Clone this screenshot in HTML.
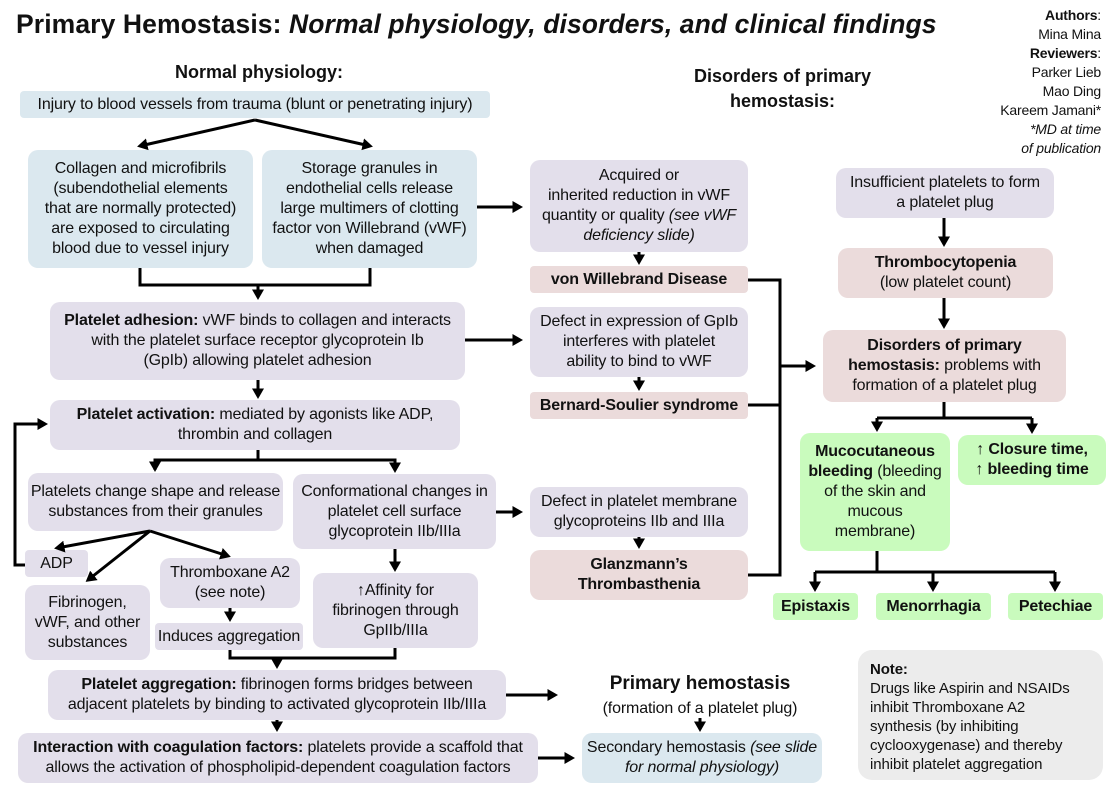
<!DOCTYPE html>
<html><head><meta charset="utf-8"><style>
body{margin:0;width:1117px;height:797px;background:#fff;font-family:"Liberation Sans",Calibri,sans-serif;position:relative;overflow:hidden;color:#111}
.b{position:absolute;display:flex;align-items:center;justify-content:center;text-align:center;font-size:16px;line-height:20px;letter-spacing:-0.15px;border-radius:10px;box-sizing:border-box;padding:0 1px;white-space:nowrap}
.bl{background:#dbe8ef}.pu{background:#e3dfeb}.pk{background:#ebdbdb}.gr{background:#c9fbbd}
.t{position:absolute}
svg{position:absolute;left:0;top:0}
</style></head><body>
<div class="t" style="left:16px;top:9px;font-size:26.5px;font-weight:bold;letter-spacing:0.1px">Primary Hemostasis: <i>Normal physiology, disorders, and clinical findings</i></div>
<div class="t" style="right:16px;top:6px;font-size:14px;line-height:19px;text-align:right;letter-spacing:-0.2px"><b>Authors</b>:<br>Mina Mina<br><b>Reviewers</b>:<br>Parker Lieb<br>Mao Ding<br>Kareem Jamani*<br><i>*MD at time<br>of publication</i></div>
<div class="t" style="left:175px;top:62px;font-size:18px;font-weight:bold">Normal physiology:</div>
<div class="t" style="left:670px;top:64px;width:225px;text-align:center;font-size:18px;line-height:25px;font-weight:bold">Disorders of primary<br>hemostasis:</div>

<div class="b bl" style="left:20px;top:91px;width:470px;height:27px;border-radius:4px">Injury to blood vessels from trauma (blunt or penetrating injury)</div>
<div class="b bl" style="left:28px;top:150px;width:225px;height:118px">Collagen and microfibrils<br>(subendothelial elements<br>that are normally protected)<br>are exposed to circulating<br>blood due to vessel injury</div>
<div class="b bl" style="left:262px;top:150px;width:215px;height:118px">Storage granules in<br>endothelial cells release<br>large multimers of clotting<br>factor von Willebrand (vWF)<br>when damaged</div>
<div class="b pu" style="left:50px;top:302px;width:415px;height:78px"><span><b>Platelet adhesion:</b> vWF binds to collagen and interacts<br>with the platelet surface receptor glycoprotein Ib<br>(GpIb) allowing platelet adhesion</span></div>
<div class="b pu" style="left:50px;top:400px;width:410px;height:50px"><span><b>Platelet activation:</b> mediated by agonists like ADP,<br>thrombin and collagen</span></div>
<div class="b pu" style="left:28px;top:473px;width:255px;height:58px">Platelets change shape and release<br>substances from their granules</div>
<div class="b pu" style="left:293px;top:474px;width:203px;height:75px">Conformational changes in<br>platelet cell surface<br>glycoprotein IIb/IIIa</div>
<div class="b pu" style="left:25px;top:550px;width:63px;height:27px;border-radius:4px">ADP</div>
<div class="b pu" style="left:160px;top:558px;width:140px;height:50px">Thromboxane A2<br>(see note)</div>
<div class="b pu" style="left:25px;top:585px;width:125px;height:75px">Fibrinogen,<br>vWF, and other<br>substances</div>
<div class="b pu" style="left:155px;top:623px;width:148px;height:27px;border-radius:4px">Induces aggregation</div>
<div class="b pu" style="left:313px;top:573px;width:165px;height:75px">↑Affinity for<br>fibrinogen through<br>GpIIb/IIIa</div>
<div class="b pu" style="left:48px;top:670px;width:458px;height:50px"><span><b>Platelet aggregation:</b> fibrinogen forms bridges between<br>adjacent platelets by binding to activated glycoprotein IIb/IIIa</span></div>
<div class="b pu" style="left:18px;top:733px;width:520px;height:50px"><span><b>Interaction with coagulation factors:</b> platelets provide a scaffold that<br>allows the activation of phospholipid-dependent coagulation factors</span></div>

<div class="b pu" style="left:530px;top:160px;width:218px;height:92px"><span>Acquired or<br>inherited reduction in vWF<br>quantity or quality <i>(see vWF<br>deficiency slide)</i></span></div>
<div class="b pk" style="left:530px;top:266px;width:218px;height:27px;border-radius:4px;font-weight:bold">von Willebrand Disease</div>
<div class="b pu" style="left:530px;top:307px;width:218px;height:70px">Defect in expression of GpIb<br>interferes with platelet<br>ability to bind to vWF</div>
<div class="b pk" style="left:530px;top:392px;width:218px;height:27px;border-radius:4px;font-weight:bold">Bernard-Soulier syndrome</div>
<div class="b pu" style="left:530px;top:487px;width:218px;height:50px">Defect in platelet membrane<br>glycoproteins IIb and IIIa</div>
<div class="b pk" style="left:530px;top:550px;width:218px;height:50px;font-weight:bold">Glanzmann’s<br>Thrombasthenia</div>

<div class="b pu" style="left:836px;top:168px;width:218px;height:50px">Insufficient platelets to form<br>a platelet plug</div>
<div class="b pk" style="left:838px;top:248px;width:215px;height:50px"><span><b>Thrombocytopenia</b><br>(low platelet count)</span></div>
<div class="b pk" style="left:823px;top:330px;width:243px;height:72px"><span><b>Disorders of primary<br>hemostasis:</b> problems with<br>formation of a platelet plug</span></div>
<div class="b gr" style="left:800px;top:433px;width:150px;height:118px"><span><b>Mucocutaneous<br>bleeding</b> (bleeding<br>of the skin and<br>mucous<br>membrane)</span></div>
<div class="b gr" style="left:958px;top:435px;width:148px;height:50px;font-weight:bold">↑ Closure time,<br>↑ bleeding time</div>
<div class="b gr" style="left:773px;top:593px;width:85px;height:27px;border-radius:4px;font-weight:bold">Epistaxis</div>
<div class="b gr" style="left:876px;top:593px;width:115px;height:27px;border-radius:4px;font-weight:bold">Menorrhagia</div>
<div class="b gr" style="left:1008px;top:593px;width:95px;height:27px;border-radius:4px;font-weight:bold">Petechiae</div>
<div class="b" style="left:858px;top:650px;width:245px;height:130px;background:#ececec;border-radius:14px;justify-content:flex-start;align-items:flex-start;text-align:left;padding:10px 12px;font-size:15px;line-height:19px;letter-spacing:-0.1px"><span><b>Note:</b><br>Drugs like Aspirin and NSAIDs<br>inhibit Thromboxane A2<br>synthesis (by inhibiting<br>cyclooxygenase) and thereby<br>inhibit platelet aggregation</span></div>
<div class="t" style="left:580px;top:673px;width:240px;text-align:center;font-size:19px;font-weight:bold">Primary hemostasis</div>
<div class="t" style="left:570px;top:700px;width:260px;text-align:center;font-size:16px;letter-spacing:-0.15px">(formation of a platelet plug)</div>
<div class="b bl" style="left:582px;top:733px;width:240px;height:50px"><span>Secondary hemostasis <i>(see slide<br>for normal physiology)</i></span></div>

<svg width="1117" height="797" viewBox="0 0 1117 797">
<defs><marker id="a" markerWidth="4" markerHeight="4" refX="2.5" refY="2" orient="auto" markerUnits="strokeWidth"><path d="M0,0L3.5,2L0,4z" fill="#000"/></marker></defs>
<g stroke="#000" stroke-width="3" fill="none">
<path d="M255,120L140,146" marker-end="url(#a)"/>
<path d="M255,120L370,146" marker-end="url(#a)"/>
<path d="M140,268V285H370V268"/>
<path d="M258,285V297" marker-end="url(#a)"/>
<path d="M258,380V396" marker-end="url(#a)"/>
<path d="M258,450V460H155V470M258,460H395V470"/>
<path d="M155,460V469" marker-end="url(#a)"/>
<path d="M395,460V470" marker-end="url(#a)"/>
<path d="M150,531L57,548" marker-end="url(#a)"/>
<path d="M150,531L88,580" marker-end="url(#a)"/>
<path d="M150,531L228,556" marker-end="url(#a)"/>
<path d="M25,565H15V424H45" marker-end="url(#a)"/>
<path d="M395,549V569" marker-end="url(#a)"/>
<path d="M230,608V619" marker-end="url(#a)"/>
<path d="M230,650V658H395V648"/>
<path d="M277,658V666" marker-end="url(#a)"/>
<path d="M277,720V729" marker-end="url(#a)"/>
<path d="M506,695H555" marker-end="url(#a)"/>
<path d="M538,758H572" marker-end="url(#a)"/>
<path d="M700,718V729" marker-end="url(#a)"/>
<path d="M477,207H520" marker-end="url(#a)"/>
<path d="M465,340H520" marker-end="url(#a)"/>
<path d="M496,512H520" marker-end="url(#a)"/>
<path d="M639,252V262" marker-end="url(#a)"/>
<path d="M639,377V388" marker-end="url(#a)"/>
<path d="M639,537V546" marker-end="url(#a)"/>
<path d="M748,280H780V575H748M748,405H780"/>
<path d="M780,366H813" marker-end="url(#a)"/>
<path d="M944,218V244" marker-end="url(#a)"/>
<path d="M944,298V326" marker-end="url(#a)"/>
<path d="M944,402V418H877M944,418H1032"/>
<path d="M877,418V429" marker-end="url(#a)"/>
<path d="M1032,418V431" marker-end="url(#a)"/>
<path d="M877,551V572H815M877,572H1055"/>
<path d="M815,572V589" marker-end="url(#a)"/>
<path d="M933,572V589" marker-end="url(#a)"/>
<path d="M1055,572V589" marker-end="url(#a)"/>
</g></svg>
</body></html>
